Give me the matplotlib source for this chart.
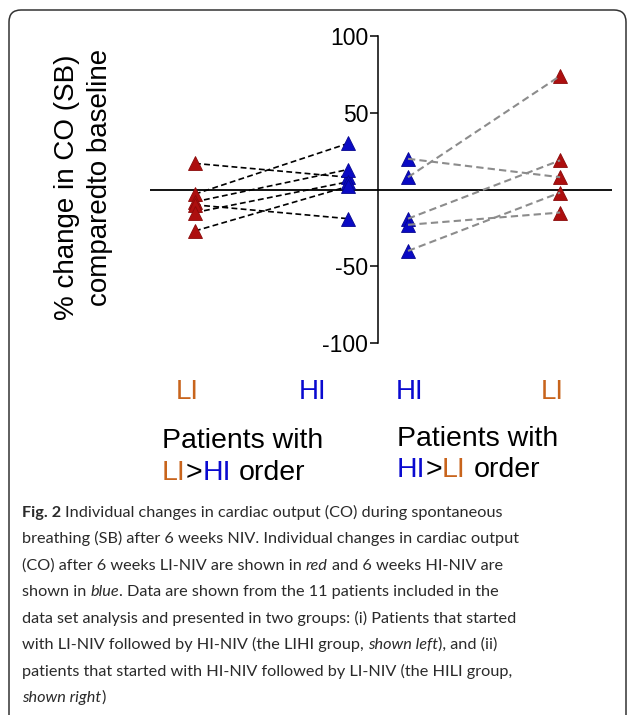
import matplotlib
matplotlib.use('Agg')
import matplotlib.pyplot as plt
import matplotlib.transforms as mtransforms
from matplotlib.patches import FancyBboxPatch

# % change in CO (SB) vs baseline, one pair per patient
lihi_li = [17, -3, -8, -10, -15, -27]
lihi_hi = [8, 30, 13, -19, 5, 2]
hili_hi = [20, 8, -19, -23, -40]
hili_li = [8, 74, 19, -15, -2]

yticks = [-100, -50, 50, 100]
ytick_labels = ['-100', '-50', '50', '100']

red = '#ad0f0f'
blue = '#0a0ac4'
orange = '#c8641c'
lblue = '#0a0ad0'

W, H = 630, 715
fig = plt.figure(figsize=(W / 100, H / 100), dpi=100)
renderer = fig.canvas.get_renderer()


def fx(px):
    return px / W


def fy(py):
    return 1 - py / H


# rounded frame round the whole figure
box = FancyBboxPatch((9, H - 760), 617, 750, boxstyle='round,pad=0,rounding_size=12',
                     transform=mtransforms.IdentityTransform(), fill=False,
                     ec='#333333', lw=1.1)
fig.patches.append(box)

ax = fig.add_axes([fx(150), fy(343), fx(612) - fx(150), fy(36) - fy(343)])
ax.set_xlim(-0.294, 2.725)
ax.set_ylim(-100, 100)
ax.patch.set_alpha(0)
for s in ['top', 'right', 'bottom']:
    ax.spines[s].set_visible(False)
ax.spines['left'].set_position(('data', 1.196))
ax.spines['left'].set_bounds(-100, 100)
ax.spines['left'].set_linewidth(1.1)
ax.set_xticks([])
ax.set_yticks(yticks)
ax.set_yticklabels(ytick_labels, family='Liberation Sans', fontsize=16.5)
ax.tick_params(axis='y', length=6, width=1.1, pad=1)
ax.axhline(0, color='black', lw=1.3, zorder=1)

# left group: LI then HI
for a, b in zip(lihi_li, lihi_hi):
    ax.plot([0, 1], [a, b], ls=(0, (3.5, 2)), color='black', lw=1.2, zorder=2, clip_on=False)
ax.plot([0] * len(lihi_li), lihi_li, '^', ms=10.5, color=red, mec='#8a0a0a', mew=0.6, zorder=3, clip_on=False)
ax.plot([1] * len(lihi_hi), lihi_hi, '^', ms=10.5, color=blue, mec='#06068f', mew=0.6, zorder=3, clip_on=False)

# right group: HI then LI
ax.plot([1.392] * len(hili_hi), hili_hi, '^', ms=10.5, color=blue, mec='#06068f', mew=0.6, zorder=3, clip_on=False)
ax.plot([2.386] * len(hili_li), hili_li, '^', ms=10.5, color=red, mec='#8a0a0a', mew=0.6, zorder=3, clip_on=False)
for a, b in zip(hili_hi, hili_li):
    ax.plot([1.392, 2.386], [a, b], ls=(0, (3.5, 2)), color='#8c8c8c', lw=1.5, zorder=4, clip_on=False)

# y label (two lines)
fig.text(fx(67), fy(187), '% change in CO (SB)', rotation=90, ha='center', va='center',
         family='Liberation Sans', fontsize=20)
fig.text(fx(100), fy(177), 'comparedto baseline', rotation=90, ha='center', va='center',
         family='Liberation Sans', fontsize=20)


def space_w(**kw):
    t1 = fig.text(0, 0, 'a a', **kw)
    t2 = fig.text(0, 0, 'aa', **kw)
    w = t1.get_window_extent(renderer).width - t2.get_window_extent(renderer).width
    t1.remove()
    t2.remove()
    return w


def put_runs(x, y, runs, **common):
    for s, kw in runs:
        style = dict(common)
        style.update(kw)
        sp = space_w(**style)
        lead = len(s) - len(s.lstrip(' '))
        trail = len(s) - len(s.rstrip(' '))
        x += lead * sp
        t = fig.text(fx(x), fy(y), s.strip(), ha='left', va='baseline', **style)
        x += t.get_window_extent(renderer).width + trail * sp


chart_font = dict(family='Liberation Sans', fontsize=20)

# category labels
fig.text(fx(187), fy(399), 'LI', ha='center', va='baseline', color=orange, **chart_font)
fig.text(fx(313), fy(399), 'HI', ha='center', va='baseline', color=lblue, **chart_font)
fig.text(fx(410), fy(399), 'HI', ha='center', va='baseline', color=lblue, **chart_font)
fig.text(fx(552), fy(399), 'LI', ha='center', va='baseline', color=orange, **chart_font)

# group labels
put_runs(162, 448, [('Patients with', {})], fontsize=20.5, family='Liberation Sans')
put_runs(162, 480, [('LI', {'color': orange}), ('>', {}), ('HI', {'color': lblue}), (' order', {})],
         fontsize=20.5, family='Liberation Sans')
put_runs(397, 446, [('Patients with', {})], fontsize=20.5, family='Liberation Sans')
put_runs(397, 477, [('HI', {'color': lblue}), ('>', {}), ('LI', {'color': orange}), (' order', {})],
         fontsize=20.5, family='Liberation Sans')

# caption
cap_font = dict(family='Lato', fontsize=11.7, color='#2a2a2a')
n = {}
it = {'style': 'italic'}
bf = {'weight': 'bold'}
caption = [
    [('Fig. 2', bf), (' Individual changes in cardiac output (CO) during spontaneous', n)],
    [('breathing (SB) after 6 weeks NIV. Individual changes in cardiac output', n)],
    [('(CO) after 6 weeks LI-NIV are shown in ', n), ('red', it), (' and 6 weeks HI-NIV are', n)],
    [('shown in ', n), ('blue', it), ('. Data are shown from the 11 patients included in the', n)],
    [('data set analysis and presented in two groups: (i) Patients that started', n)],
    [('with LI-NIV followed by HI-NIV (the LIHI group, ', n), ('shown left', it), ('), and (ii)', n)],
    [('patients that started with HI-NIV followed by LI-NIV (the HILI group,', n)],
    [('shown right', it), (')', n)],
]
y0 = 516.7
for i, line in enumerate(caption):
    put_runs(22, y0 + i * 26.5, line, **cap_font)

fig.savefig('out.png', dpi=100)
